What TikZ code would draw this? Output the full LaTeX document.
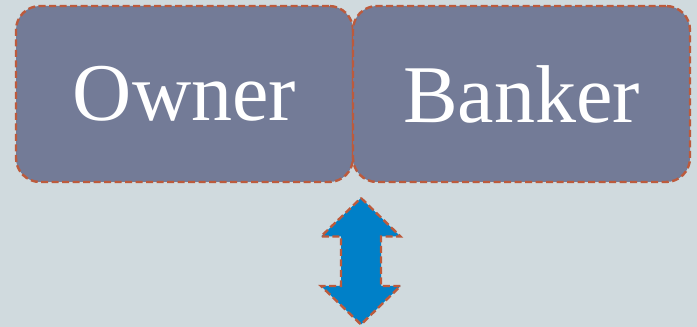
\documentclass[tikz,border=0pt]{standalone}
\usepackage{fontspec}
\setmainfont{Liberation Serif}
\definecolor{bg}{HTML}{D0DADE}
\definecolor{boxfill}{HTML}{737B97}
\definecolor{edge}{HTML}{BC5A3C}
\definecolor{arrowfill}{HTML}{0080C8}
\tikzset{
  rolebox/.style={draw=edge, fill=boxfill, line width=2.4pt, dash pattern=on 7pt off 3.5pt,
    rounded corners=24pt, minimum width=337pt, minimum height=176pt, inner sep=0pt,
    text=white, font=\fontsize{82}{92}\selectfont},
  dblarrow/.style={draw=edge, fill=arrowfill, line width=2.4pt, dash pattern=on 7pt off 3.5pt}
}
\begin{document}
\begin{tikzpicture}[x=1pt,y=1pt]
  \fill[bg] (0,0) rectangle (697,327);
  \useasboundingbox (0,0) rectangle (697,327);
  \node[rolebox] (owner) at (184.5,233) {Owner};
  \node[rolebox] (banker) at (521.5,233) {Banker};
  % vertical double-headed arrow below the boxes
  \coordinate (top) at (361,129);
  \coordinate (bottom) at (361,2.5);
  \draw[dblarrow] (top) -- (400.5,90.5) -- (381,90.5) -- (381,41) -- (400.5,41)
    -- (bottom) -- (321,41) -- (341,41) -- (341,90.5) -- (321,90.5) -- cycle;
\end{tikzpicture}
\end{document}
